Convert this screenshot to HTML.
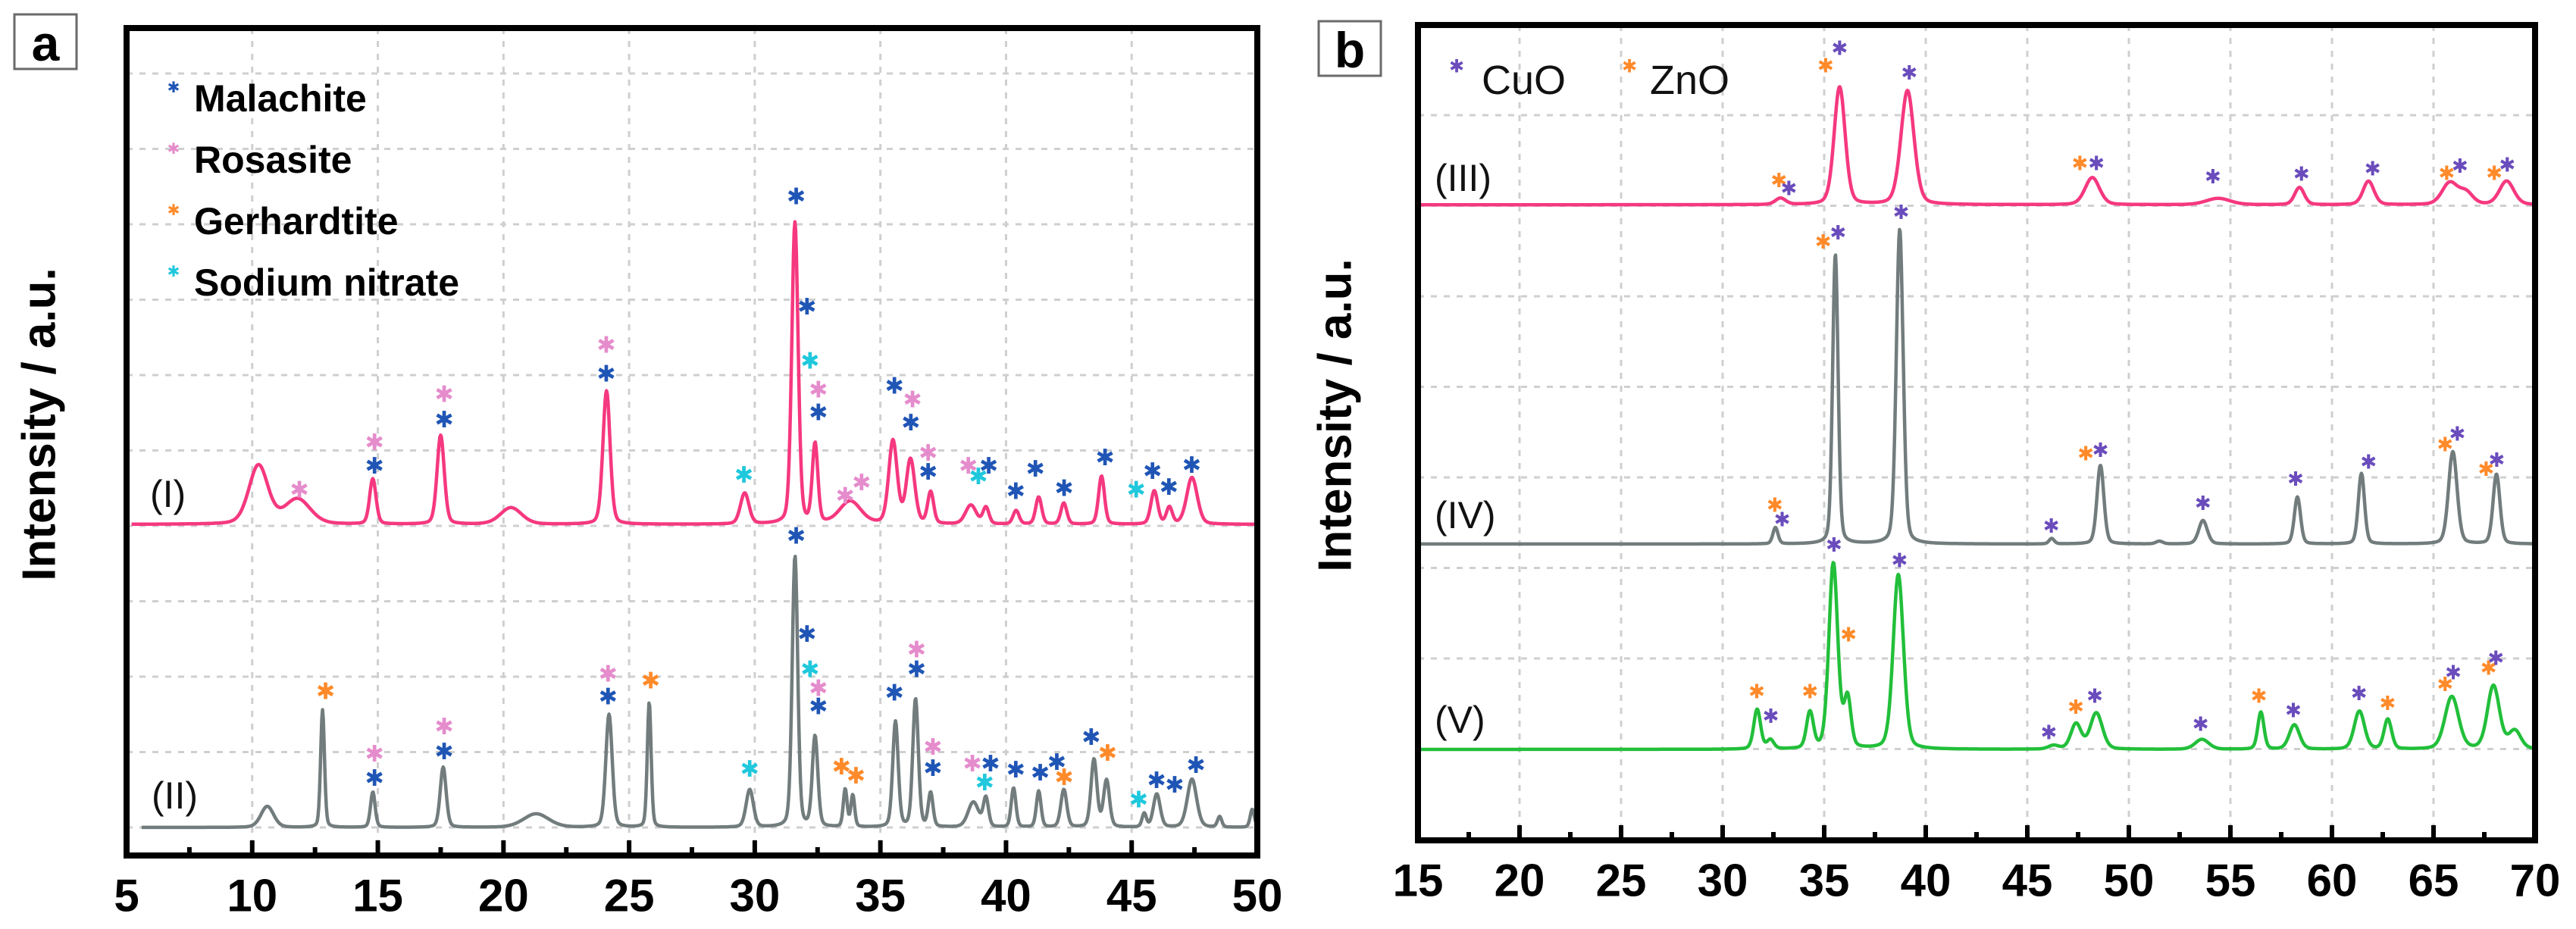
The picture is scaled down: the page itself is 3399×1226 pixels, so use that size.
<!DOCTYPE html>
<html><head><meta charset="utf-8"><style>
html,body{margin:0;padding:0;background:#fff}
svg{display:block}
text{font-family:"Liberation Sans",Arial,sans-serif}
</style></head><body>
<svg id="fig" width="3399" height="1226" viewBox="0 0 3399 1226" xmlns="http://www.w3.org/2000/svg">
<g id="pa"></g>
<g id="pb"></g>
</svg>
<script>
// ---------- Panel a data ----------
const aTicks = [5,10,15,20,25,30,35,40,45,50];
const aGridX = [10,15,20,25,30,35,40,45];
const aBaseI = 4.02;
const aPeakPosI = [10.25,11.8,14.8,17.5,20.3,24.1,29.6,31.6,32.4,33.8,35.5,36.2,37.0,38.6,39.2,40.4,41.3,42.3,43.8,45.9,46.5,47.4];
const aPeakHI   = [0.78,0.33,0.6,1.18,0.22,1.77,0.41,4.0,1.05,0.3,1.1,0.85,0.42,0.25,0.22,0.18,0.36,0.28,0.64,0.44,0.22,0.62];
const aPeakWI   = [0.45,0.6,0.15,0.17,0.5,0.17,0.2,0.15,0.13,0.5,0.2,0.2,0.14,0.25,0.14,0.14,0.14,0.14,0.14,0.16,0.14,0.25];
const aBaseII = 0.0;
const aPeakPosII = [10.6,12.8,14.8,17.6,21.3,24.2,25.8,29.8,31.6,32.4,33.6,33.9,35.6,36.4,37.0,38.7,39.2,40.3,41.3,42.3,43.5,44.0,45.5,46.0,47.4,48.5,49.8];
const aPeakHII   = [0.28,1.56,0.47,0.8,0.18,1.5,1.66,0.5,3.6,1.2,0.5,0.42,1.4,1.7,0.45,0.33,0.38,0.52,0.48,0.5,0.9,0.62,0.18,0.44,0.64,0.14,0.24];
const aPeakWII   = [0.3,0.09,0.11,0.14,0.6,0.15,0.09,0.17,0.13,0.13,0.09,0.09,0.13,0.13,0.11,0.25,0.12,0.11,0.11,0.14,0.14,0.14,0.1,0.16,0.22,0.1,0.1];
const aMarkX = [11.88,14.87,14.87,17.64,17.64,24.09,24.09,29.57,31.65,32.08,32.2,32.53,32.53,33.6,34.25,35.56,36.28,36.21,36.9,36.9,38.5,38.9,39.31,40.39,41.17,42.31,43.94,45.18,45.83,46.48,47.39,
  12.92,14.87,14.87,17.64,17.64,24.16,24.16,25.86,29.8,31.65,32.08,32.2,32.53,32.53,33.45,34.03,35.56,36.44,36.44,37.09,37.09,38.66,39.38,39.15,40.39,41.36,42.02,42.31,43.39,44.04,45.28,45.99,46.71,47.56];
const aMarkV = [4.47,4.79,5.10,5.40,5.74,6.01,6.39,4.67,8.36,6.90,6.18,5.80,5.50,4.39,4.57,5.85,5.67,5.36,4.96,4.71,4.79,4.65,4.79,4.45,4.75,4.49,4.90,4.47,4.72,4.51,4.80,
  1.80,0.97,0.65,1.33,1.00,2.03,1.73,1.94,0.77,3.86,2.56,2.09,1.84,1.60,0.80,0.68,1.78,2.35,2.09,1.06,0.78,0.84,0.84,0.59,0.76,0.72,0.86,0.66,1.19,0.98,0.36,0.62,0.56,0.82];
const aMarkP = ["R","M","R","M","R","M","R","S","M","M","S","R","M","R","R","M","R","M","R","M","R","S","M","M","M","M","M","S","M","M","M",
  "G","R","M","R","M","R","M","G","S","M","M","S","R","M","G","G","M","R","M","R","M","R","M","S","M","M","M","G","M","G","S","M","M","M"];
const aLegend = ["Malachite","Rosasite","Gerhardtite","Sodium nitrate"];
const aLegendP = ["M","R","G","S"];

// ---------- Panel b data ----------
const bTicks = [15,20,25,30,35,40,45,50,55,60,65,70];
const bGridX = [20,25,30,35,40,45,50,55,60,65];
const bBaseIII = 6.02;
const bPosIII = [32.85,35.76,39.1,48.2,54.4,58.4,61.8,65.8,66.6,68.6];
const bHIII   = [0.07,1.3,1.26,0.3,0.07,0.19,0.26,0.24,0.13,0.26];
const bWIII   = [0.3,0.32,0.38,0.42,0.7,0.28,0.32,0.45,0.4,0.42];
const bBaseIV = 2.27;
const bPosIV = [32.6,35.55,38.72,46.2,48.6,51.5,53.65,58.3,61.45,65.95,68.1];
const bHIV   = [0.18,3.2,3.48,0.06,0.87,0.03,0.26,0.52,0.78,1.02,0.77];
const bWIV   = [0.15,0.16,0.2,0.15,0.2,0.2,0.25,0.18,0.18,0.25,0.2];
const bBaseV = 0.0;
const bPosV = [31.7,32.35,34.3,35.45,36.15,38.65,46.3,47.4,48.4,53.6,56.5,58.15,61.35,62.75,65.9,67.95,69.0];
const bHV   = [0.44,0.1,0.4,2.05,0.55,1.93,0.04,0.28,0.4,0.11,0.41,0.27,0.42,0.33,0.58,0.7,0.2];
const bWV   = [0.2,0.2,0.2,0.26,0.2,0.3,0.3,0.3,0.35,0.4,0.18,0.3,0.3,0.22,0.4,0.35,0.35];
const bMarkX = [35.07,35.76,39.19,32.77,33.26,47.59,48.4,54.14,58.5,62.0,65.65,66.3,67.99,68.63,
  34.95,35.68,38.79,32.57,32.93,46.18,47.88,48.6,53.65,58.21,61.8,65.57,66.17,67.59,68.11,
  35.48,38.71,36.2,31.68,32.37,34.3,46.06,47.39,48.32,53.53,56.4,58.1,61.33,62.74,65.57,65.97,67.71,68.07];
const bMarkV = [7.56,7.75,7.48,6.29,6.20,6.48,6.48,6.33,6.36,6.42,6.37,6.45,6.37,6.46,
  5.61,5.71,5.94,2.70,2.54,2.47,3.27,3.31,2.72,2.99,3.18,3.37,3.49,3.10,3.20,
  2.26,2.09,1.27,0.64,0.37,0.64,0.19,0.47,0.59,0.28,0.59,0.43,0.62,0.51,0.72,0.85,0.90,1.01];
const bMarkP = ["Z","C","C","Z","C","Z","C","C","C","C","Z","C","Z","C",
  "Z","C","C","Z","C","C","Z","C","C","C","C","Z","C","Z","C",
  "C","C","Z","Z","C","Z","C","Z","C","C","Z","C","C","Z","Z","C","Z","C"];

// ---------- helpers ----------
const NS="http://www.w3.org/2000/svg";
const COL={M:"#1f55b5",R:"#e58ccc",G:"#ff8a2a",S:"#1fc8dc",C:"#6a4cbc",Z:"#ff8a2a"};
function mk(parent,tag,attrs,text){const e=document.createElementNS(NS,tag);for(const k in attrs)e.setAttribute(k,attrs[k]);if(text!==undefined)e.textContent=text;parent.appendChild(e);return e;}
function profile(x,pos,h,w){let s=0;for(let i=0;i<pos.length;i++){const d=(x-pos[i])/w[i];s+=h[i]*(0.75*Math.exp(-0.693*d*d)+0.25/(1+d*d));}return s;}

function drawPanel(g,cfg){
  const xs=v=>cfg.x0+(v-cfg.d0)/(cfg.d1-cfg.d0)*(cfg.x1-cfg.x0);
  const ys=v=>cfg.yz-v*cfg.yu;
  // grid
  const grid=mk(g,"g",{});
  
  
  cfg.gridX.forEach(v=>{mk(grid,"line",{x1:xs(v),x2:xs(v),y1:cfg.top,y2:cfg.bot,stroke:"#cfcfcf","stroke-width":3,"stroke-dasharray":"8 9"});});
  for(let k=0;k<cfg.gridN;k++){const y=cfg.g0+k*cfg.gs;mk(grid,"line",{x1:cfg.x0,x2:cfg.x1,y1:y,y2:y,stroke:"#cfcfcf","stroke-width":3,"stroke-dasharray":"8 9"});}
  // series
  cfg.series.forEach(s=>{
    let d="";for(let x=s.from;x<=cfg.d1+1e-6;x+=0.03){const v=s.base+profile(x,s.pos,s.h,s.w);d+=(d?"L":"M")+xs(x).toFixed(1)+","+ys(v).toFixed(1);}
    const p=mk(g,"path",{d:d,fill:"none",stroke:s.color,"stroke-width":4.5,"stroke-linejoin":"round"});
    
    
    const t=mk(g,"text",{x:s.lx,y:s.ly,"font-size":50,fill:"#111","dominant-baseline":"central"},s.label);
    
    
  });
  // markers
  const mg=mk(g,"g",{});
  
  
  cfg.mx.forEach((x,i)=>{
    const t=mk(mg,"text",{x:xs(x),y:ys(cfg.mv[i]),"font-size":cfg.ms,fill:COL[cfg.mp[i]],"text-anchor":"middle","dominant-baseline":"central","font-family":"DejaVu Sans, sans-serif"},"\u2731");
    
    
  });
  // frame
  const fr=mk(g,"rect",{x:cfg.x0,y:cfg.top,width:cfg.x1-cfg.x0,height:cfg.bot-cfg.top,fill:"none",stroke:"#000","stroke-width":8});
  
  
  // ticks
  const tg=mk(g,"g",{});
  
  
  cfg.ticks.forEach((v,i)=>{
    const x=xs(v);
    if(i>0&&i<cfg.ticks.length-1)mk(tg,"line",{x1:x,x2:x,y1:cfg.bot,y2:cfg.bot-20,stroke:"#000","stroke-width":6});
    if(i<cfg.ticks.length-1){const xm=xs(v+(cfg.ticks[1]-cfg.ticks[0])/2);mk(tg,"line",{x1:xm,x2:xm,y1:cfg.bot,y2:cfg.bot-11,stroke:"#000","stroke-width":6});}
    const t=mk(tg,"text",{x:x,y:cfg.ly,"font-size":60,"font-weight":"bold",fill:"#000","text-anchor":"middle","dominant-baseline":"central"},v);
    
    
  });
  const yt=mk(g,"text",{x:0,y:0,"font-size":62,"font-weight":"bold",fill:"#000","text-anchor":"middle","dominant-baseline":"central",transform:"translate("+cfg.tx+","+cfg.ty+") rotate(-90)"},"Intensity / a.u.");
  
  
  // panel letter
  const bx=mk(g,"rect",{x:cfg.bx,y:cfg.by,width:82,height:72,fill:"#fff",stroke:"#6a6a6a","stroke-width":3});
  
  
  const lt=mk(g,"text",{x:cfg.bx+41,y:cfg.by+38,"font-size":66,"font-weight":"bold",fill:"#000","text-anchor":"middle","dominant-baseline":"central"},cfg.letter);
  
  
}

const pa=document.getElementById("pa"), pb=document.getElementById("pb");
drawPanel(pa,{x0:167,x1:1659,d0:5,d1:50,top:37,bot:1129,yz:1092,yu:99.5,g0:97,gs:99.5,gridN:11,gridX:aGridX,ticks:aTicks,ly:1182,
  tx:52,ty:560,bx:19,by:19,letter:"a",ms:30,mx:aMarkX,mv:aMarkV,mp:aMarkP,
  series:[{name:"pattern-I",label:"(I)",lx:198,ly:652,color:"#f5387f",base:aBaseI,pos:aPeakPosI,h:aPeakHI,w:aPeakWI,from:5.2},
          {name:"pattern-II",label:"(II)",lx:200,ly:1050,color:"#727c7c",base:aBaseII,pos:aPeakPosII,h:aPeakHII,w:aPeakWII,from:5.6}]});
drawPanel(pb,{x0:1871,x1:3345,d0:15,d1:70,top:33,bot:1109,yz:989,yu:119.4,g0:152,gs:119.5,gridN:8,gridX:bGridX,ticks:bTicks,ly:1162,
  tx:1762,ty:548,bx:1740,by:28,letter:"b",ms:26,mx:bMarkX,mv:bMarkV,mp:bMarkP,
  series:[{name:"pattern-III",label:"(III)",lx:1893,ly:235,color:"#f5387f",base:bBaseIII,pos:bPosIII,h:bHIII,w:bWIII,from:15.1},
          {name:"pattern-IV",label:"(IV)",lx:1893,ly:680,color:"#727c7c",base:bBaseIV,pos:bPosIV,h:bHIV,w:bWIV,from:15.1},
          {name:"pattern-V",label:"(V)",lx:1893,ly:950,color:"#22bf3a",base:bBaseV,pos:bPosV,h:bHV,w:bWV,from:15.1}]});

// legends
const la=mk(pa,"g",{});


aLegend.forEach((s,i)=>{
  const y=130+i*81;
  const st=mk(la,"text",{x:229,y:y-14,"font-size":20,fill:COL[aLegendP[i]],"text-anchor":"middle","dominant-baseline":"central","font-family":"DejaVu Sans, sans-serif"},"\u2731");
  
  
  const t=mk(la,"text",{x:256,y:y,"font-size":50,"font-weight":"bold",fill:"#000","dominant-baseline":"central"},s);
  
  
});
const lb=mk(pb,"g",{});


[["C","CuO",1922,1955],["Z","ZnO",2150,2177]].forEach(e=>{
  const st=mk(lb,"text",{x:e[2],y:88,"font-size":24,fill:COL[e[0]],"text-anchor":"middle","dominant-baseline":"central","font-family":"DejaVu Sans, sans-serif"},"\u2731");
  
  
  const t=mk(lb,"text",{x:e[3],y:106,"font-size":54,fill:"#111","dominant-baseline":"central"},e[1]);
  
  
});
</script>
</body></html>
